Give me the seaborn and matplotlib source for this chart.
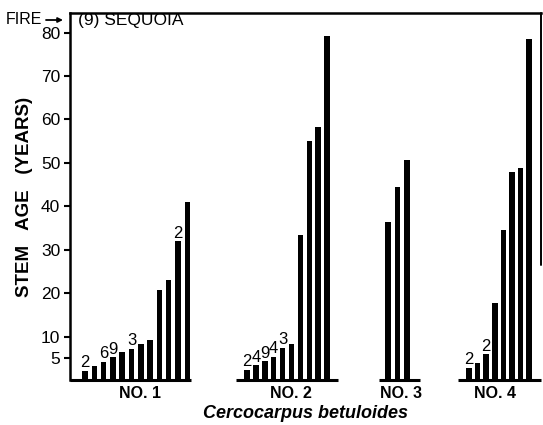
import numpy as np
import pandas as pd
import matplotlib
matplotlib.use("Agg")
import matplotlib.pyplot as plt
import seaborn as sns

# ---- data ----
groups = ["NO. 1", "NO. 2", "NO. 3", "NO. 4"]
ages_no1 = [2.1, 3.2, 4.1, 5.2, 6.4, 7.1, 8.3, 9.2, 20.8, 23.0, 31.9, 40.9]
ages_no2 = [2.4, 3.4, 4.3, 5.3, 7.4, 8.4, 33.3, 55.0, 58.3, 79.2]
ages_no3 = [36.3, 44.4, 50.6]
ages_no4 = [2.8, 4.0, 5.9, 17.8, 34.6, 47.9, 48.7, 78.5]
counts_no1 = ["2", "", "6", "9", "", "3", "", "", "", "", "2", ""]
counts_no2 = ["2", "4", "9", "4", "3", "", "", "", "", ""]
counts_no3 = ["", "", ""]
counts_no4 = ["2", "", "2", "", "", "", "", ""]
y_ticks = [5, 10, 20, 30, 40, 50, 60, 70, 80]

# ---- layout (pixel-like x units across the axes) ----
group_start = [15.0, 177.0, 318.0, 399.0]
group_step = [9.3, 8.9, 9.5, 8.6]
baseline_ext = [(0, 121), (166, 268), (309, 350), (388, 471)]
label_x = [70, 221, 331, 425]

all_ages = [ages_no1, ages_no2, ages_no3, ages_no4]
all_counts = [counts_no1, counts_no2, counts_no3, counts_no4]
rows = []
for g, (ages, cnts) in enumerate(zip(all_ages, all_counts)):
    for i, (a, c) in enumerate(zip(ages, cnts)):
        rows.append({"pos": round(group_start[g] + i * group_step[g], 2),
                     "age": a, "count": c, "group": groups[g]})
df = pd.DataFrame(rows).sort_values("pos").reset_index(drop=True)

sns.set_theme(style="white")
plt.rcParams["font.family"] = ["Liberation Sans", "DejaVu Sans"]

W, H = 543, 425
fig = plt.figure(figsize=(W / 100, H / 100), dpi=100)
ax = fig.add_axes([70 / W, 45 / H, 471 / W, 367 / H])

sns.barplot(data=df, x="pos", y="age", native_scale=True, color="black",
            saturation=1, width=0.65, errorbar=None, linewidth=0, ax=ax)

ax.set_xlim(0, 471)
ax.set_ylim(0, 84.5)

# count labels above bars
ax.bar_label(ax.containers[0], labels=list(df["count"]), padding=0.5,
             fontsize=12, color="black")

# group baselines
for (x0, x1) in baseline_ext:
    ax.hlines(0, x0, x1, color="black", lw=2.2, clip_on=False)

# spines
for s in ["bottom", "right"]:
    ax.spines[s].set_visible(False)
for s in ["left", "top"]:
    ax.spines[s].set_color("black")
    ax.spines[s].set_linewidth(1.8)
ax.axvline(471, ymin=26.5 / 84.5, ymax=1, color="black", lw=1.4, clip_on=False)

ax.set_yticks(y_ticks)
ax.set_yticklabels([str(t) for t in y_ticks])
ax.tick_params(axis="y", left=True, direction="out", length=4, width=1.5,
               labelsize=12.5, pad=3, colors="black")

ax.set_xticks(label_x)
ax.set_xticklabels(groups, fontweight="bold", fontsize=11.5)
ax.tick_params(axis="x", bottom=False, length=0, pad=4, colors="black")

ax.set_xlabel("Cercocarpus betuloides", fontstyle="italic", fontweight="bold",
              fontsize=13, labelpad=3, color="black")
ax.set_ylabel("STEM   AGE   (YEARS)", fontweight="bold", fontsize=13.5,
              labelpad=6, color="black")

fig.text(6 / W, 1 - 20 / H, "FIRE", fontsize=11.5, va="center", ha="left",
         color="black")
ax.annotate("", xy=(63 / W, 1 - 20 / H), xycoords="figure fraction",
            xytext=(46 / W, 1 - 20 / H), textcoords="figure fraction",
            arrowprops=dict(arrowstyle="-|>", color="black", lw=1.3,
                            mutation_scale=7, shrinkA=0, shrinkB=0))
fig.text(78 / W, 1 - 21 / H, "(9) SEQUOIA", fontsize=12.5, va="center",
         ha="left", color="black")

fig.savefig("out.png", dpi=100)
